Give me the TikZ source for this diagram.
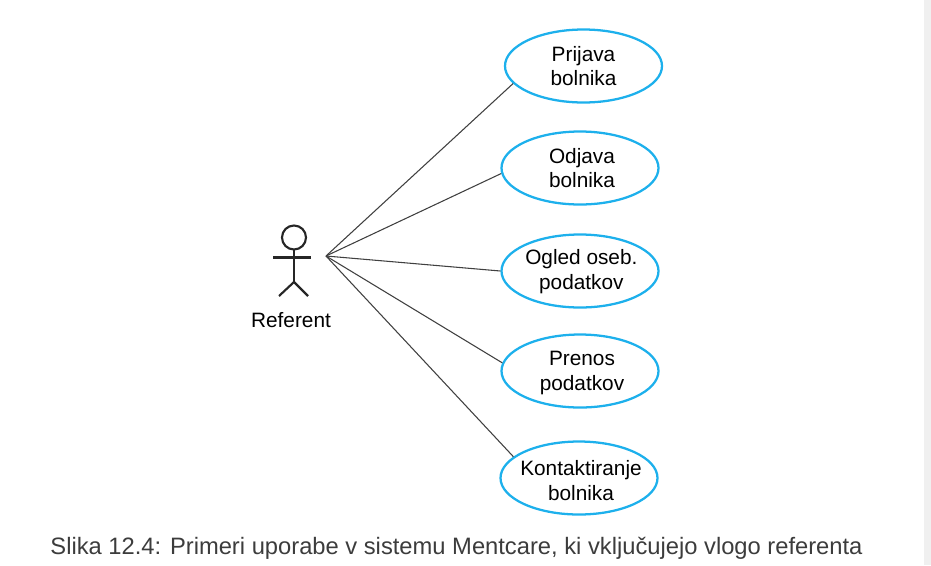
\documentclass[tikz,border=0pt]{standalone}
\usepackage{fontspec}
\setmainfont{Liberation Sans}
\usetikzlibrary{shapes.geometric}
\definecolor{ucblue}{HTML}{1DB0EC}
\definecolor{captgray}{HTML}{3C3C3C}
\definecolor{edgegray}{HTML}{F0F0F0}
\newdimen\unit
\unit=0.75pt
\newcommand{\nudge}[2]{\hspace*{#1}\rule{0pt}{#2}}
\tikzset{
    usecase/.style={draw=ucblue, line width=1.7pt, ellipse, minimum width=157\unit, minimum height=73\unit, inner xsep=-12pt, inner ysep=-4pt, align=center, font=\fontsize{15.6}{18.6}\selectfont, fill=white},
    assoc/.style={draw=black!75, line width=0.8pt},
    stick/.style={draw=black!85, line width=1.6pt}
}
\begin{document}
\begin{tikzpicture}[x=0.75pt, y=-0.75pt]
    \useasboundingbox (0,0) rectangle (931,565);
    % Page edge
    \fill [edgegray] (924,0) rectangle (931,565);

    % Actor
    \draw [stick] (294,237.5) circle (12);
    \draw [stick] (294,249.5) -- (294,282);
    \draw [stick] (273,257.5) -- (311,257.5);
    \draw [stick] (279,296) -- (294,282) -- (308,296);
    \node (referent) at (291,320) {\fontsize{15.6}{18}\selectfont Referent};
    \coordinate (hand) at (326,256);

    % Use cases
    \node [usecase] (prijava) at (583.5,66) {Prijava\\bolnika};
    \node [usecase] (odjava) at (580,168) {\nudge{3pt}{0pt}Odjava\\\nudge{3pt}{0pt}bolnika};
    \node [usecase] (ogled) at (580,271) {\nudge{2pt}{12.8pt}Ogled oseb.\\\nudge{2pt}{0pt}podatkov};
    \node [usecase] (prenos) at (580,371) {\nudge{3pt}{14.3pt}Prenos\\\nudge{3pt}{0pt}podatkov};
    \node [usecase] (kontakt) at (579,478) {\nudge{3pt}{15.1pt}Kontaktiranje\\\nudge{3pt}{0pt}bolnika};

    % Associations
    \draw [assoc] (hand) -- (prijava.194);
    \draw [assoc] (hand) -- (odjava.184);
    \draw [assoc] (hand) -- (ogled.180);
    \draw [assoc] (hand) -- (prenos.174);
    \draw [assoc] (hand) -- (kontakt.162);

    % Caption
    \node [text=captgray] (caption) at (456.5,548.5) {\fontsize{17.8}{20}\selectfont Slika 12.4: Primeri uporabe v sistemu Mentcare, ki vključujejo vlogo referenta};
\end{tikzpicture}
\end{document}
